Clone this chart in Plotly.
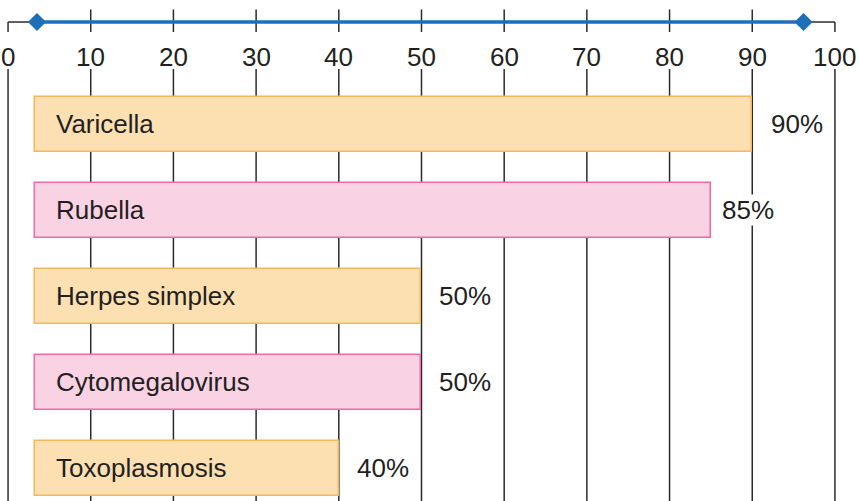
import plotly.graph_objects as go

# ---- data ----
diseases = ["Varicella", "Rubella", "Herpes simplex", "Cytomegalovirus", "Toxoplasmosis"]
percent = [90, 85, 50, 50, 40]
pct_labels = ["90%", "85%", "50%", "50%", "40%"]
tick_vals = [0, 10, 20, 30, 40, 50, 60, 70, 80, 90, 100]
tick_text = ["0", "10", "20", "30", "40", "50", "60", "70", "80", "90", "100"]
range_line = [3.5, 96.2]   # blue range bar on top
bar_base = 3.3

# ---- style ----
fills = ["#fde0b2", "#f9d2e4", "#fde0b2", "#f9d2e4", "#fde0b2"]
borders = ["#f5b75b", "#f06aa8", "#f5b75b", "#f06aa8", "#f5b75b"]
label_shift = [18, 10, 17, 17, 17]
ink = "#231f20"
grid = "#2b2b2b"
FONT = "Liberation Sans, Arial, Helvetica, sans-serif"
FS = 26

# vertical layout in y-data units (categories at 0..4, reversed axis)
Y_TOP_TICK = -1.334
Y_TICK_END = -1.072
Y_BLUE = -1.188
Y_LABEL = -0.781
Y_GRID_START = -0.642
Y_BOTTOM = 4.5

ypos = list(range(len(diseases)))

fig = go.Figure()

fig.add_trace(go.Bar(
    y=ypos,
    x=[p - bar_base for p in percent],
    base=bar_base,
    orientation="h",
    width=0.64,
    marker=dict(color=fills, line=dict(color=borders, width=1.5)),
    hoverinfo="skip",
    showlegend=False,
))

fig.add_trace(go.Scatter(
    x=range_line, y=[Y_BLUE, Y_BLUE],
    mode="lines+markers",
    line=dict(color="#1d6fb8", width=3.5),
    marker=dict(symbol="diamond", size=14, color="#1d6fb8"),
    hoverinfo="skip", showlegend=False,
))

shapes = []
for t in tick_vals:
    top = Y_BLUE if t in (tick_vals[0], tick_vals[-1]) else Y_TOP_TICK
    shapes.append(dict(type="line", xref="x", yref="y", x0=t, x1=t, y0=top, y1=Y_TICK_END,
                       line=dict(color=grid, width=1.5), layer="below"))
    shapes.append(dict(type="line", xref="x", yref="y", x0=t, x1=t, y0=Y_GRID_START, y1=Y_BOTTOM,
                       line=dict(color=grid, width=1.5), layer="below"))
# bracket stubs joining the end lines to the blue range line
shapes.append(dict(type="line", xref="x", yref="y", x0=tick_vals[0], x1=range_line[0], y0=Y_BLUE, y1=Y_BLUE,
                   line=dict(color=grid, width=1.5), layer="below"))
shapes.append(dict(type="line", xref="x", yref="y", x0=range_line[1], x1=tick_vals[-1], y0=Y_BLUE, y1=Y_BLUE,
                   line=dict(color=grid, width=1.5), layer="below"))

annotations = []
for t, s in zip(tick_vals, tick_text):
    annotations.append(dict(x=t, y=Y_LABEL, xref="x", yref="y", text=s, showarrow=False,
                            font=dict(family=FONT, size=FS, color=ink), xanchor="center", yanchor="middle"))
for i, (d, p, lab) in enumerate(zip(diseases, percent, pct_labels)):
    annotations.append(dict(x=bar_base, y=i, xref="x", yref="y", text=d, showarrow=False,
                            font=dict(family=FONT, size=FS, color=ink), xanchor="left", yanchor="middle",
                            xshift=19))
    annotations.append(dict(x=p, y=i, xref="x", yref="y", text=lab, showarrow=False,
                            font=dict(family=FONT, size=FS, color=ink), xanchor="left", yanchor="middle",
                            xshift=label_shift[i], bgcolor="white", borderpad=0))

fig.update_layout(
    width=859, height=501,
    margin=dict(l=0, r=0, t=0, b=0),
    paper_bgcolor="white", plot_bgcolor="white",
    shapes=shapes, annotations=annotations,
    xaxis=dict(range=[-0.973, 102.91], visible=False, fixedrange=True),
    yaxis=dict(range=[4.381, -1.444], visible=False, fixedrange=True),
    bargap=0,
)

fig.write_html("out.html", config={"displayModeBar": False},
               post_script="document.body.style.margin='0';document.body.style.overflow='hidden';")
